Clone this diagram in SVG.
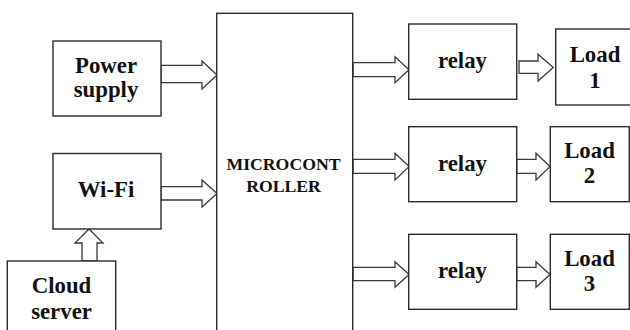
<svg xmlns="http://www.w3.org/2000/svg" width="630" height="330" viewBox="0 0 630 330">
  <style>
    .box { fill: #ffffff; stroke: #2b2b2b; stroke-width: 1.4; }
    .arrow { fill: #ffffff; stroke: #3a3a3a; stroke-width: 1.3; stroke-linejoin: miter; }
    .lbl { font-family: 'Liberation Serif', 'DejaVu Serif', serif; font-weight: bold; font-size: 22.8px; fill: #111111; text-anchor: middle; }
    .mc { font-size: 17.7px; }
  </style>
  <rect width="630" height="330" fill="#ffffff"/>

  <g id="connectors">
    <!-- power supply to microcontroller -->
    <polygon class="arrow" points="161,65.3 202,65.3 202,61 217,75 202,89 202,82.7 161,82.7"/>
    <!-- wi-fi to microcontroller -->
    <polygon class="arrow" points="161,186.7 202,186.7 202,180 217,193.5 202,207 202,200 161,200"/>
    <!-- cloud server up to wi-fi -->
    <polygon class="arrow" points="82,261 82,243 75,243 89,229 103,243 97,243 97,261"/>
    <!-- microcontroller to relays -->
    <polygon class="arrow" points="353,62.7 395,62.7 395,56.7 409,69.7 395,82.7 395,76.7 353,76.7"/>
    <polygon class="arrow" points="353,159.3 395,159.3 395,153.3 409,166.6 395,180 395,173.3 353,173.3"/>
    <polygon class="arrow" points="353,267.3 395,267.3 395,261.7 409,274.5 395,287.3 395,280.7 353,280.7"/>
    <!-- relays to loads -->
    <polygon class="arrow" points="519,61 538,61 538,54.3 553.3,67.6 538,81 538,73.3 519,73.3"/>
    <polygon class="arrow" points="516.7,159.3 536,159.3 536,153.3 550,166.6 536,180 536,173.3 516.7,173.3"/>
    <polygon class="arrow" points="516.7,267.3 536,267.3 536,261.7 550,274.5 536,287.3 536,280.7 516.7,280.7"/>
  </g>

  <g id="power-supply">
    <rect class="box" x="53" y="41" width="108" height="75"/>
    <text class="lbl" x="106" y="72.7">Power</text>
    <text class="lbl" x="106" y="97">supply</text>
  </g>

  <g id="wifi">
    <rect class="box" x="53" y="153.5" width="108" height="75.5"/>
    <text class="lbl" x="106" y="197">Wi-Fi</text>
  </g>

  <g id="cloud-server">
    <rect class="box" x="7.3" y="261" width="108.4" height="80"/>
    <text class="lbl" x="61.5" y="292.7">Cloud</text>
    <text class="lbl" x="61.5" y="319">server</text>
  </g>

  <g id="microcontroller">
    <rect class="box" x="216.7" y="13.3" width="136" height="330"/>
    <text class="lbl mc" x="283.5" y="170">MICROCONT</text>
    <text class="lbl mc" x="283.5" y="191.7">ROLLER</text>
  </g>

  <g id="relay-1">
    <rect class="box" x="408.7" y="24" width="108" height="75.3"/>
    <text class="lbl" x="462.5" y="68.3">relay</text>
  </g>
  <g id="relay-2">
    <rect class="box" x="408.7" y="126.7" width="108" height="75"/>
    <text class="lbl" x="462.5" y="170.7">relay</text>
  </g>
  <g id="relay-3">
    <rect class="box" x="408.7" y="234.3" width="108" height="75"/>
    <text class="lbl" x="462.5" y="278.3">relay</text>
  </g>

  <g id="load-1">
    <rect class="box" x="555.7" y="29" width="90" height="76"/>
    <text class="lbl" x="595" y="61.7">Load</text>
    <text class="lbl" x="595" y="88.3">1</text>
  </g>
  <g id="load-2">
    <rect class="box" x="550.3" y="126.7" width="79" height="75"/>
    <text class="lbl" x="589.5" y="158.3">Load</text>
    <text class="lbl" x="589.5" y="183.3">2</text>
  </g>
  <g id="load-3">
    <rect class="box" x="550.3" y="234.3" width="79" height="75"/>
    <text class="lbl" x="589.5" y="265.7">Load</text>
    <text class="lbl" x="589.5" y="291">3</text>
  </g>
</svg>
